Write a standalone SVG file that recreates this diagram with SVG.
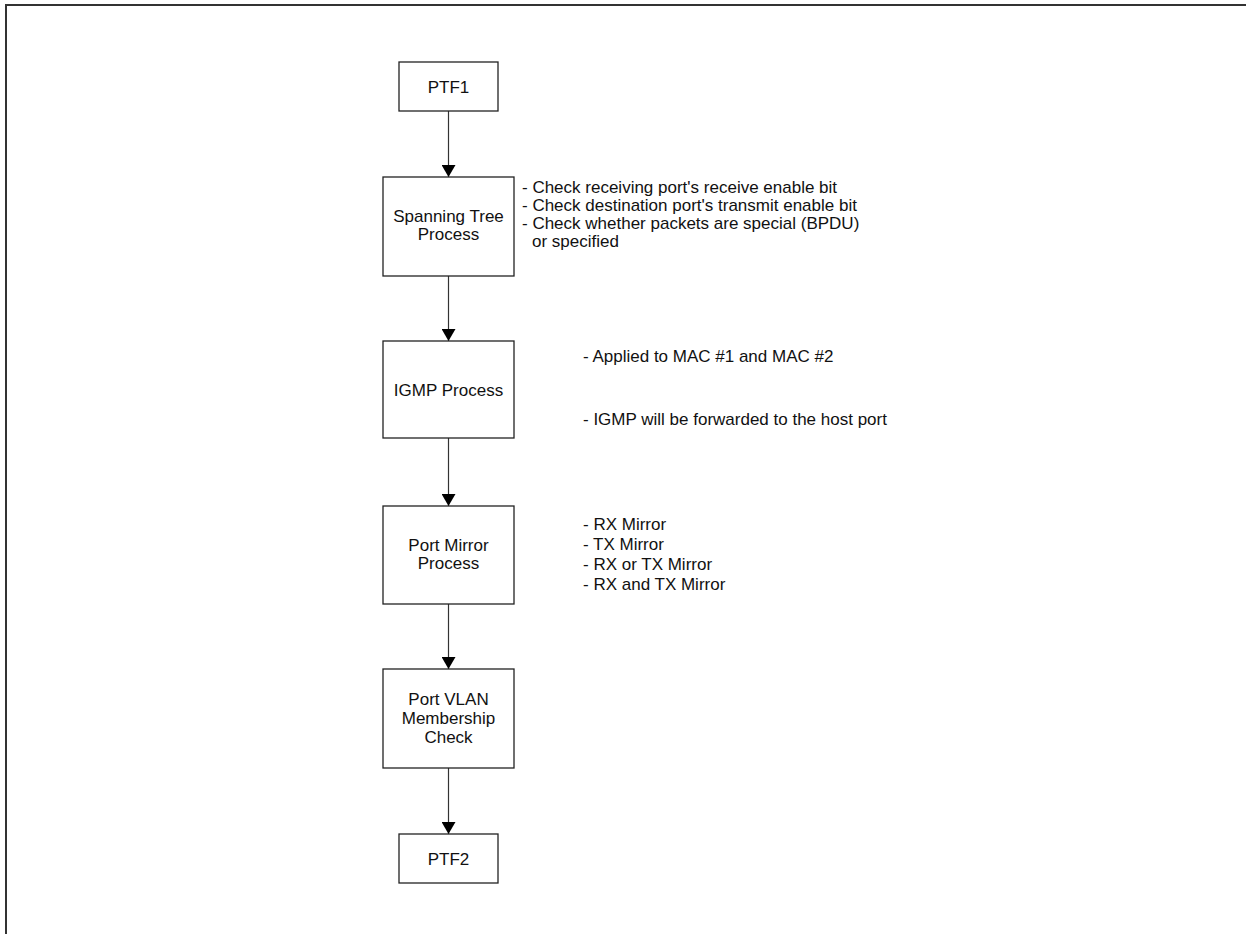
<svg xmlns="http://www.w3.org/2000/svg" width="1246" height="934" viewBox="0 0 1246 934">
<style>
.box{fill:#fff;stroke:#222;stroke-width:1.3}
.t{font-family:"Liberation Sans",Arial,sans-serif;font-size:17px;fill:#111}
.c{text-anchor:middle}
.conn{stroke:#333;stroke-width:1.2;fill:none}
.frame{stroke:#333;stroke-width:2;fill:none}
</style>
<defs>
<marker id="ah" viewBox="0 0 12 14" refX="12" refY="7" markerWidth="12" markerHeight="14" markerUnits="userSpaceOnUse" orient="auto">
<path d="M0,0 L12,7 L0,14 Z" fill="#000"/>
</marker>
</defs>
<rect width="1246" height="934" fill="#fff"/>
<path class="frame" d="M6,934 V5 H1246"/>
<g id="connectors">
<line class="conn" x1="448.5" y1="111" x2="448.5" y2="177" marker-end="url(#ah)"/>
<line class="conn" x1="448.5" y1="276" x2="448.5" y2="341" marker-end="url(#ah)"/>
<line class="conn" x1="448.5" y1="438" x2="448.5" y2="506" marker-end="url(#ah)"/>
<line class="conn" x1="448.5" y1="604" x2="448.5" y2="669" marker-end="url(#ah)"/>
<line class="conn" x1="448.5" y1="768" x2="448.5" y2="834" marker-end="url(#ah)"/>
</g>
<g id="ptf1">
<rect class="box" x="399" y="62" width="99" height="49"/>
<text class="t c" x="448.5" y="92.5">PTF1</text>
</g>
<g id="spanning-tree">
<rect class="box" x="383" y="177" width="131" height="99"/>
<text class="t c" x="448.5" y="222">Spanning Tree</text>
<text class="t c" x="448.5" y="239.5">Process</text>
</g>
<g id="spanning-tree-notes">
<text class="t" x="522" y="193">- Check receiving port's receive enable bit</text>
<text class="t" x="522" y="211">- Check destination port's transmit enable bit</text>
<text class="t" x="522" y="229">- Check whether packets are special (BPDU)</text>
<text class="t" x="532" y="247">or specified</text>
</g>
<g id="igmp">
<rect class="box" x="383" y="341" width="131" height="97"/>
<text class="t c" x="448.5" y="396">IGMP Process</text>
</g>
<g id="igmp-notes">
<text class="t" x="583" y="362">- Applied to MAC #1 and MAC #2</text>
<text class="t" x="583" y="425">- IGMP will be forwarded to the host port</text>
</g>
<g id="port-mirror">
<rect class="box" x="383" y="506" width="131" height="98"/>
<text class="t c" x="448.5" y="550.5">Port Mirror</text>
<text class="t c" x="448.5" y="569">Process</text>
</g>
<g id="port-mirror-notes">
<text class="t" x="583" y="530">- RX Mirror</text>
<text class="t" x="583" y="550">- TX Mirror</text>
<text class="t" x="583" y="570">- RX or TX Mirror</text>
<text class="t" x="583" y="590">- RX and TX Mirror</text>
</g>
<g id="port-vlan">
<rect class="box" x="383" y="669" width="131" height="99"/>
<text class="t c" x="448.5" y="705">Port VLAN</text>
<text class="t c" x="448.5" y="724">Membership</text>
<text class="t c" x="448.5" y="743">Check</text>
</g>
<g id="ptf2">
<rect class="box" x="399" y="834" width="99" height="49"/>
<text class="t c" x="448.5" y="864.5">PTF2</text>
</g>
</svg>
